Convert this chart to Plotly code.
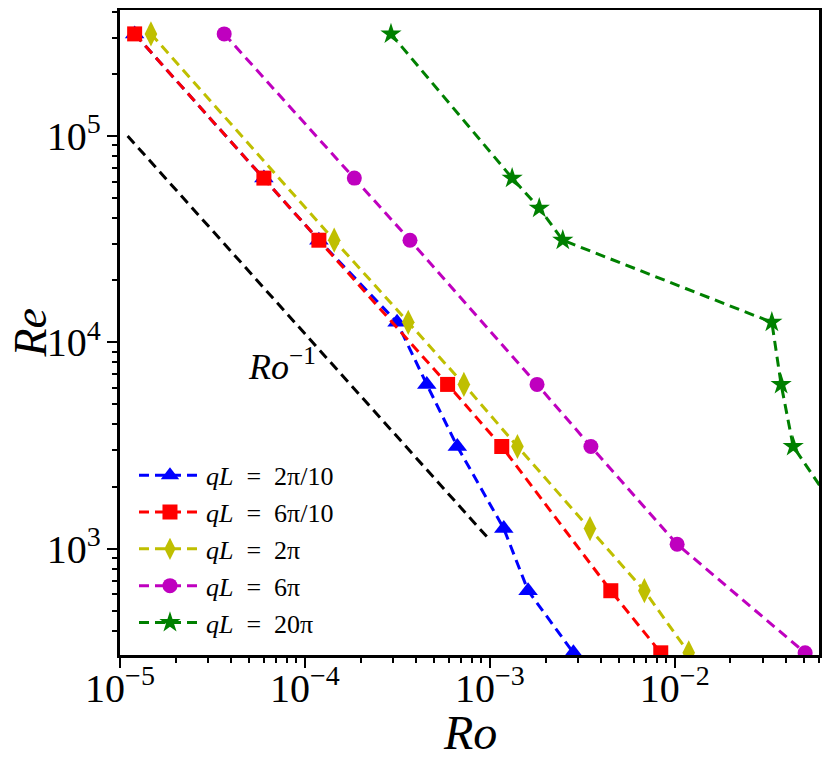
import numpy as np
import plotly.graph_objects as go

# Re values (shared grid) and Ro for each qL
blue_ro = [1.2e-5, 6.0e-5, 1.19e-4, 3.15e-4, 4.56e-4, 6.67e-4, 1.19e-3, 1.61e-3, 2.83e-3]
blue_re = [312500, 62500, 31250, 12500, 6250, 3125, 1250, 625, 312.5]

red_ro = [1.2e-5, 6.0e-5, 1.19e-4, 5.91e-4, 1.16e-3, 4.51e-3, 8.4e-3]
red_re = [312500, 62500, 31250, 6250, 3125, 625, 312.5]

yellow_ro = [1.47e-5, 1.44e-4, 3.62e-4, 7.24e-4, 1.41e-3, 3.48e-3, 6.85e-3, 1.19e-2]
yellow_re = [312500, 31250, 12500, 6250, 3125, 1250, 625, 312.5]

magenta_ro = [3.66e-5, 1.85e-4, 3.70e-4, 1.80e-3, 3.52e-3, 1.03e-2, 5.07e-2]
magenta_re = [312500, 62500, 31250, 6250, 3125, 1050, 312.5]

green_ro = [2.92e-4, 1.32e-3, 1.85e-3, 2.48e-3, 3.35e-2, 3.76e-2, 4.37e-2, 8.75e-2]
green_re = [312500, 62500, 44700, 31250, 12500, 6250, 3125, 1250]

# reference slope Ro^-1
ref_ro = [1.1e-5, 1.0e-3]
ref_re = [1.0e5, 1.1e3]

FONT = "Liberation Serif"
DASH = "10px,6px"
EQ = "\u00a0\u00a0=\u00a0\u00a0"

series = [
    (blue_ro, blue_re, "#0000ff", "triangle-up", 17, "<i>qL</i>" + EQ + "2π/10"),
    (red_ro, red_re, "#ff0000", "square", 15, "<i>qL</i>" + EQ + "6π/10"),
    (yellow_ro, yellow_re, "#bfbf00", "diamond-tall", 18, "<i>qL</i>" + EQ + "2π"),
    (magenta_ro, magenta_re, "#bf00bf", "circle", 15, "<i>qL</i>" + EQ + "6π"),
    (green_ro, green_re, "#008000", "star", 16, "<i>qL</i>" + EQ + "20π"),
]

fig = go.Figure()

fig.add_trace(go.Scatter(x=ref_ro, y=ref_re, mode="lines",
                         line=dict(color="black", dash=DASH, width=3),
                         showlegend=False))

for ro, re, col, sym, size, name in series:
    fig.add_trace(go.Scatter(
        x=ro, y=re, mode="lines+markers", name=name,
        line=dict(color=col, dash=DASH, width=3),
        marker=dict(symbol=sym, size=size, color=col, line=dict(width=0)),
    ))

fig.add_annotation(x=np.log10(7.5e-5), y=np.log10(7.8e3), xref="x", yref="y",
                   text="<i>Ro</i><sup>−1</sup>", showarrow=False,
                   font=dict(family=FONT, size=36, color="black"))

# axis titles as annotations so they sit where the reference has them
fig.add_annotation(x=0.5, y=0, xref="paper", yref="paper", yanchor="middle",
                   yshift=-77, text="<i>Ro</i>", showarrow=False,
                   font=dict(family=FONT, size=48, color="black"))
fig.add_annotation(x=0, y=0.5, xref="paper", yref="paper", xanchor="center",
                   xshift=-90, text="<i>Re</i>", showarrow=False, textangle=-90,
                   font=dict(family=FONT, size=46, color="black"))

axis_common = dict(
    type="log", showgrid=False, zeroline=False, automargin=False,
    showline=True, linecolor="black", linewidth=2.5, mirror=True,
    ticks="outside", ticklen=10, tickwidth=2, tickcolor="black",
    dtick=1, exponentformat="power",
    tickfont=dict(family=FONT, size=32, color="black"),
    minor=dict(ticks="outside", ticklen=5, tickwidth=1.5, tickcolor="black", dtick="D1", showgrid=False),
)

fig.update_xaxes(**axis_common, range=[-5, -1.22], ticklabelstandoff=-12)
fig.update_yaxes(**axis_common, range=[np.log10(305), np.log10(4.08e5)])

# page body has an 8px margin, so the figure is a little smaller than the window
fig.update_layout(
    width=822, height=753,
    margin=dict(l=112, r=11, t=2, b=106),
    paper_bgcolor="white", plot_bgcolor="white",
    legend=dict(x=0.02, y=0.315, xanchor="left", yanchor="top",
                bgcolor="rgba(255,255,255,0)", borderwidth=0,
                font=dict(family=FONT, size=26, color="black"),
                itemwidth=62),
)

fig.write_html("out.html")
